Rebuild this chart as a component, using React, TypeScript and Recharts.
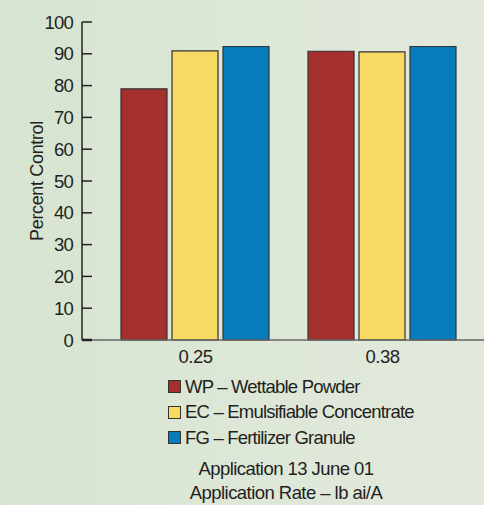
import React from 'react';
import { BarChart, Bar, XAxis, YAxis, Legend } from 'recharts';

const categories = ['0.25', '0.38'];
const wpValues = [79, 90.8];
const ecValues = [90.9, 90.6];
const fgValues = [92.3, 92.3];
const yTicks = [0, 10, 20, 30, 40, 50, 60, 70, 80, 90, 100];

const seriesNames = ['WP – Wettable Powder', 'EC – Emulsifiable Concentrate', 'FG – Fertilizer Granule'];
const seriesColors = ['#a52f2c', '#f6da61', '#067cba'];
const subtitle = ['Application 13 June 01', 'Application Rate – lb ai/A'];

const data = categories.map((c, i) => ({
  name: c,
  wp: wpValues[i],
  ec: ecValues[i],
  fg: fgValues[i],
}));

const FONT = '"Liberation Sans", Arial, sans-serif';

// ticks point inward (to the right of the axis line)
const YTick = (props: any) => {
  const { x, y, payload } = props;
  const v = payload.value;
  return (
    <g>
      <line x1={x + 10} x2={x + 20} y1={y} y2={y} stroke="#222" strokeWidth={v === 0 ? 2.5 : 1.5} />
      <text
        x={x + 1}
        y={y}
        dy={6.5}
        textAnchor="end"
        fontSize={18.5}
        letterSpacing={-0.8}
        fill="#231f20"
        fontFamily={FONT}
      >
        {v}
      </text>
    </g>
  );
};

const LegendContent = () => (
  <div style={{ fontFamily: FONT, color: '#231f20' }}>
    {seriesNames.map((n, i) => (
      <div key={n} style={{ display: 'flex', alignItems: 'center', height: 25.5 }}>
        <span
          style={{
            display: 'inline-block',
            width: 11,
            height: 11,
            background: seriesColors[i],
            border: '1px solid #333',
            marginRight: 4,
          }}
        />
        <span style={{ fontSize: 18.5, letterSpacing: -0.8 }}>{n}</span>
      </div>
    ))}
    <div
      style={{
        marginTop: 6,
        width: 236,
        textAlign: 'center',
        fontSize: 18.5,
        letterSpacing: -0.55,
        lineHeight: '24px',
      }}
    >
      {subtitle.map((s) => (
        <div key={s}>{s}</div>
      ))}
    </div>
  </div>
);

export default function App() {
  return (
    <div
      style={{
        position: 'absolute',
        top: 0,
        left: 0,
        width: 484,
        height: 505,
        background: 'linear-gradient(90deg, #d7e4d0 0%, #dde7d7 50%, #e1e9dc 100%)',
      }}
    >
      <BarChart
        width={484}
        height={505}
        data={data}
        margin={{ top: 22, right: 0, bottom: 135, left: 0 }}
        barCategoryGap={19}
        barGap={5}
      >
        <XAxis
          dataKey="name"
          height={30}
          padding={{ left: 20, right: 8 }}
          axisLine={{ stroke: '#666', strokeWidth: 1.5 }}
          tickLine={false}
          tick={{ fontSize: 18.5, fill: '#231f20', fontFamily: FONT, letterSpacing: -0.5 }}
          tickMargin={4}
        />
        <YAxis
          width={82}
          domain={[0, 100]}
          ticks={yTicks}
          interval={0}
          tickSize={10}
          tickMargin={0}
          tickLine={false}
          axisLine={{ stroke: '#222', strokeWidth: 1.5 }}
          tick={<YTick />}
          label={{
            value: 'Percent Control',
            angle: -90,
            position: 'center',
            dx: -4,
            style: { fontSize: 18, fill: '#231f20', fontFamily: FONT, letterSpacing: -0.35 },
          }}
        />
        <Legend
          layout="vertical"
          align="center"
          verticalAlign="middle"
          wrapperStyle={{ top: 374, left: 168, width: 300 }}
          content={<LegendContent />}
        />
        <Bar dataKey="wp" name={seriesNames[0]} fill={seriesColors[0]} stroke="#333" strokeWidth={1.2} isAnimationActive={false} />
        <Bar dataKey="ec" name={seriesNames[1]} fill={seriesColors[1]} stroke="#333" strokeWidth={1.2} isAnimationActive={false} />
        <Bar dataKey="fg" name={seriesNames[2]} fill={seriesColors[2]} stroke="#333" strokeWidth={1.2} isAnimationActive={false} />
      </BarChart>
    </div>
  );
}
